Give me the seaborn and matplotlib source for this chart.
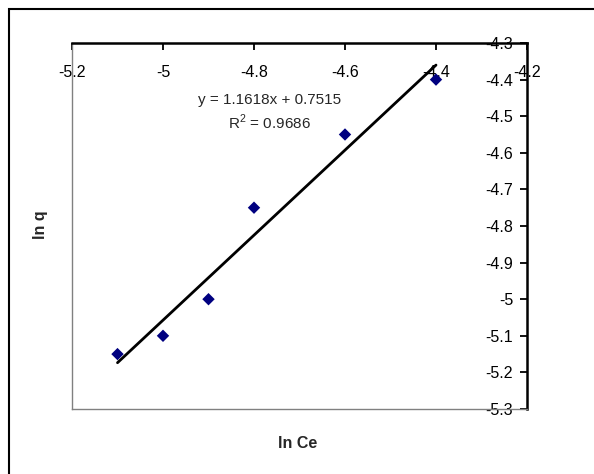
import matplotlib
matplotlib.use("Agg")
import matplotlib.pyplot as plt
import pandas as pd
import seaborn as sns
from matplotlib.patches import Rectangle
from matplotlib.ticker import FormatStrFormatter

# data
ln_ce = [-5.1, -5.0, -4.9, -4.8, -4.6, -4.4]
ln_q = [-5.15, -5.1, -5.0, -4.75, -4.55, -4.4]
x_ticks = [-5.2, -5.0, -4.8, -4.6, -4.4, -4.2]
y_ticks = [-5.3, -5.2, -5.1, -5.0, -4.9, -4.8, -4.7, -4.6, -4.5, -4.4, -4.3]
eq_text = "y = 1.1618x + 0.7515"
r2_text = "R$^{2}$ = 0.9686"

sns.set_style("white")
plt.rcParams['font.family'] = ['Liberation Sans', 'DejaVu Sans']
plt.rcParams['mathtext.fontset'] = 'custom'
plt.rcParams['mathtext.rm'] = 'Liberation Sans'

df = pd.DataFrame({'ln Ce': ln_ce, 'ln q': ln_q})

fig = plt.figure(figsize=(5.94, 4.74), dpi=100)
ax = fig.add_axes([72/594, 65/474, 455/594, 366/474])

# chart border like excel
fig.patches.append(Rectangle((9/594, -0.1), 1.0, 1 - 9/474 + 0.1, transform=fig.transFigure,
                             fill=False, edgecolor='black', linewidth=1.5))

sns.regplot(x='ln Ce', y='ln q', data=df, ax=ax, ci=None, marker='D',
            scatter_kws={'color': '#000080', 's': 40, 'alpha': 1, 'edgecolors': 'none', 'zorder': 3},
            line_kws={'color': 'black', 'linewidth': 2.0})

ax.set_xlim(-5.2, -4.2)
ax.set_ylim(-5.3, -4.3)
ax.set_xticks(x_ticks)
ax.set_yticks(y_ticks)
ax.xaxis.set_major_formatter(FormatStrFormatter('%g'))
ax.yaxis.set_major_formatter(FormatStrFormatter('%g'))

fs = 11.5
ax.tick_params(axis='x', bottom=False, labelbottom=False, top=True, labeltop=True,
               direction='in', length=5, width=1.3, pad=-16, labelsize=fs, colors='black')
ax.tick_params(axis='y', left=False, labelleft=False, right=True, labelright=True,
               direction='in', length=5, width=1.3, pad=-10, labelsize=fs, colors='black')
for lab in ax.get_xticklabels():
    lab.set_va('top')
for lab in ax.get_yticklabels():
    lab.set_ha('right')

for s in ['top', 'right']:
    ax.spines[s].set_color('black')
    ax.spines[s].set_linewidth(1.8)
for s in ['left', 'bottom']:
    ax.spines[s].set_color('#808080')
    ax.spines[s].set_linewidth(1.0)

ax.set_xlabel('')
ax.set_ylabel('')
fig.text(298/594, 1 - 443/474, 'ln Ce', ha='center', va='center', fontsize=fs, fontweight='bold')
fig.text(40/594, 1 - 225/474, 'ln q', ha='center', va='center', rotation=90, fontsize=fs, fontweight='bold')

ax.text(270/594, 1 - 100/474, eq_text, transform=fig.transFigure, ha='center', va='center', fontsize=11)
ax.text(269/594, 1 - 122/474, r2_text, transform=fig.transFigure, ha='center', va='center', fontsize=11)

fig.savefig('out.png', dpi=100)
